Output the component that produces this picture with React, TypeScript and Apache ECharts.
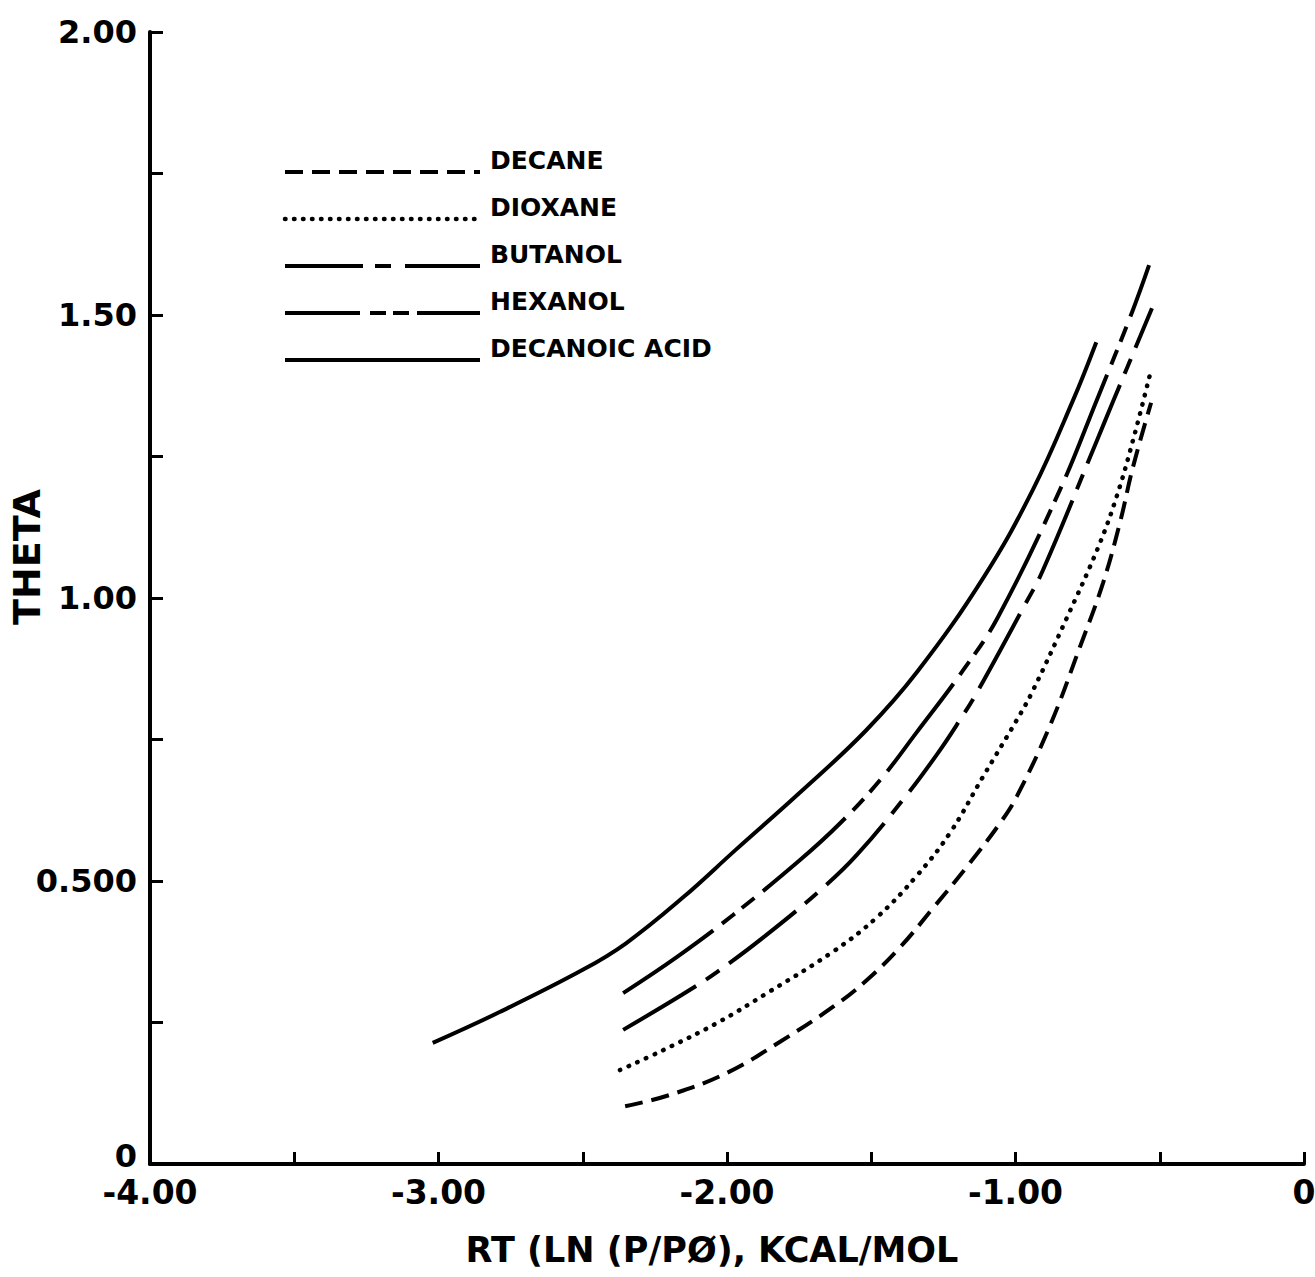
import React, { useEffect, useRef } from "react";
import * as echarts from "echarts";

// ---- Data ----
const seriesNames = ["DECANE", "DIOXANE", "BUTANOL", "HEXANOL", "DECANOIC ACID"];

const decaneX = [-2.353, -2.198, -2.0, -1.816, -1.626, -1.515, -1.4, -1.286, -1.158, -1.054, -0.995, -0.88, -0.777, -0.697, -0.638, -0.593, -0.53];
const decaneY = [0.102, 0.122, 0.161, 0.216, 0.28, 0.325, 0.383, 0.452, 0.532, 0.602, 0.65, 0.775, 0.913, 1.026, 1.133, 1.231, 1.345];

const dioxaneX = [-2.371, -2.222, -2.035, -1.861, -1.633, -1.48, -1.341, -1.227, -1.113, -0.995, -0.944, -0.822, -0.713, -0.649, -0.592, -0.53];
const dioxaneY = [0.166, 0.201, 0.249, 0.302, 0.375, 0.436, 0.51, 0.585, 0.684, 0.785, 0.832, 0.965, 1.09, 1.18, 1.28, 1.403];

const butanolX = [-2.36, -2.156, -2.035, -1.85, -1.667, -1.55, -1.383, -1.269, -1.192, -1.135, -0.974, -0.905, -0.718, -0.662, -0.527];
const butanolY = [0.237, 0.299, 0.339, 0.41, 0.488, 0.546, 0.648, 0.726, 0.785, 0.832, 0.982, 1.049, 1.278, 1.347, 1.512];

const hexanolX = [-2.36, -2.173, -1.979, -1.747, -1.608, -1.47, -1.342, -1.182, -1.061, -0.846, -0.718, -0.596, -0.537];
const hexanolY = [0.302, 0.366, 0.44, 0.537, 0.602, 0.678, 0.763, 0.872, 0.966, 1.191, 1.35, 1.505, 1.588];

const decanoicX = [-3.02, -2.79, -2.5, -2.35, -2.15, -1.97, -1.75, -1.52, -1.34, -1.11, -0.94, -0.8, -0.72];
const decanoicY = [0.214, 0.268, 0.343, 0.39, 0.472, 0.555, 0.655, 0.765, 0.87, 1.037, 1.191, 1.35, 1.452];

const xTickValues = [-4, -3, -2, -1, 0];
const xTickLabels = ["-4.00", "-3.00", "-2.00", "-1.00", "0"];
const yTickValues = [0, 0.5, 1, 1.5, 2];
const yTickLabels = ["0", "0.500", "1.00", "1.50", "2.00"];

const xAxisTitle = "RT (LN (P/P\u00D8), KCAL/MOL";
const yAxisTitle = "THETA";

const zip = (xs: number[], ys: number[]) => xs.map((x, i) => [x, ys[i]]);

const FONT = "DejaVu Sans";

export default function App() {
  const ref = useRef<HTMLDivElement>(null);

  useEffect(() => {
    if (!ref.current) return;
    const chart = echarts.init(ref.current, undefined, { renderer: "svg" });

    const dashStyles: any[] = [
      { type: [18, 9], cap: "butt" },
      { type: [0.5, 9], cap: "round" },
      { type: [85, 12, 16, 12], cap: "butt" },
      { type: [110, 11, 16, 9, 16, 11], cap: "butt" },
      { type: "solid", cap: "butt" },
    ];
    const legendDash: any[] = [
      [18, 9],
      [0.5, 8.5],
      [78, 12, 16, 14],
      [75, 10, 16, 7, 16, 8],
      null,
    ];
    const datasets = [
      zip(decaneX, decaneY),
      zip(dioxaneX, dioxaneY),
      zip(butanolX, butanolY),
      zip(hexanolX, hexanolY),
      zip(decanoicX, decanoicY),
    ];

    const labelFor = (vals: number[], labels: string[]) => (v: number) => {
      const i = vals.findIndex((t) => Math.abs(t - v) < 1e-6);
      return i >= 0 ? labels[i] : "";
    };

    const legendGraphics: any[] = [];
    seriesNames.forEach((name, i) => {
      const yLine = 172 + 47 * i;
      legendGraphics.push({
        type: "line",
        shape: { x1: 285, y1: yLine, x2: 480, y2: yLine },
        style: {
          stroke: "#000",
          lineWidth: i === 1 ? 4.5 : 4,
          lineDash: legendDash[i],
          lineCap: i === 1 ? "round" : "butt",
        },
        silent: true,
      });
      legendGraphics.push({
        type: "text",
        x: 490,
        y: yLine - 12,
        style: {
          text: name,
          fontFamily: FONT,
          fontWeight: "bold",
          fontSize: 25,
          fill: "#000",
          verticalAlign: "middle",
          align: "left",
        },
        silent: true,
      });
    });

    chart.setOption({
      animation: false,
      backgroundColor: "#ffffff",
      grid: { left: 150, right: 11, top: 32, bottom: 113, containLabel: false, outerBoundsMode: "none" },
      graphic: legendGraphics,
      xAxis: {
        type: "value",
        min: -4,
        max: 0,
        interval: 0.5,
        name: xAxisTitle,
        nameLocation: "middle",
        nameGap: 68,
        nameMoveOverlap: false,
        nameTextStyle: {
          fontFamily: FONT,
          fontWeight: "bold",
          fontSize: 35,
          color: "#000",
          padding: [0, 30, 0, 0],
        },
        axisLine: { show: true, onZero: false, lineStyle: { color: "#000", width: 4 } },
        axisTick: { show: true, inside: true, length: 12, lineStyle: { color: "#000", width: 3 } },
        axisLabel: {
          show: true,
          margin: 12,
          fontFamily: FONT,
          fontWeight: "bold",
          fontSize: 33,
          color: "#000",
          showMinLabel: true,
          showMaxLabel: true,
          formatter: labelFor(xTickValues, xTickLabels),
        },
        splitLine: { show: false },
      },
      yAxis: {
        type: "value",
        min: 0,
        max: 2,
        interval: 0.25,
        name: yAxisTitle,
        nameLocation: "middle",
        nameGap: 104,
        nameRotate: 90,
        nameMoveOverlap: false,
        nameTextStyle: {
          fontFamily: FONT,
          fontWeight: "bold",
          fontSize: 38,
          color: "#000",
          padding: [0, 0, 0, 82],
        },
        axisLine: { show: true, onZero: false, lineStyle: { color: "#000", width: 4 } },
        axisTick: { show: true, inside: true, length: 13, lineStyle: { color: "#000", width: 3 } },
        axisLabel: {
          show: true,
          margin: 13,
          fontFamily: FONT,
          fontWeight: "bold",
          fontSize: 32,
          color: "#000",
          showMinLabel: true,
          showMaxLabel: true,
          formatter: (v: number) => {
            const s = labelFor(yTickValues, yTickLabels)(v);
            return Math.abs(v) < 1e-9 ? "{z|" + s + "}" : s;
          },
          rich: {
            z: {
              fontFamily: FONT,
              fontWeight: "bold",
              fontSize: 32,
              color: "#000",
              padding: [0, 0, 16, 0],
            },
          },
        },
        splitLine: { show: false },
      },
      series: seriesNames.map((name, i) => ({
        name,
        type: "line",
        data: datasets[i],
        smooth: 0.4,
        symbol: "none",
        showSymbol: false,
        color: "#000",
        lineStyle: {
          color: "#000",
          width: i === 1 ? 4.5 : 4,
          type: dashStyles[i].type,
          cap: dashStyles[i].cap,
        },
      })),
    });

    return () => chart.dispose();
  }, []);

  return (
    <div
      ref={ref}
      style={{ position: "fixed", left: 0, top: 0, width: 1315, height: 1277, background: "#fff" }}
    />
  );
}
